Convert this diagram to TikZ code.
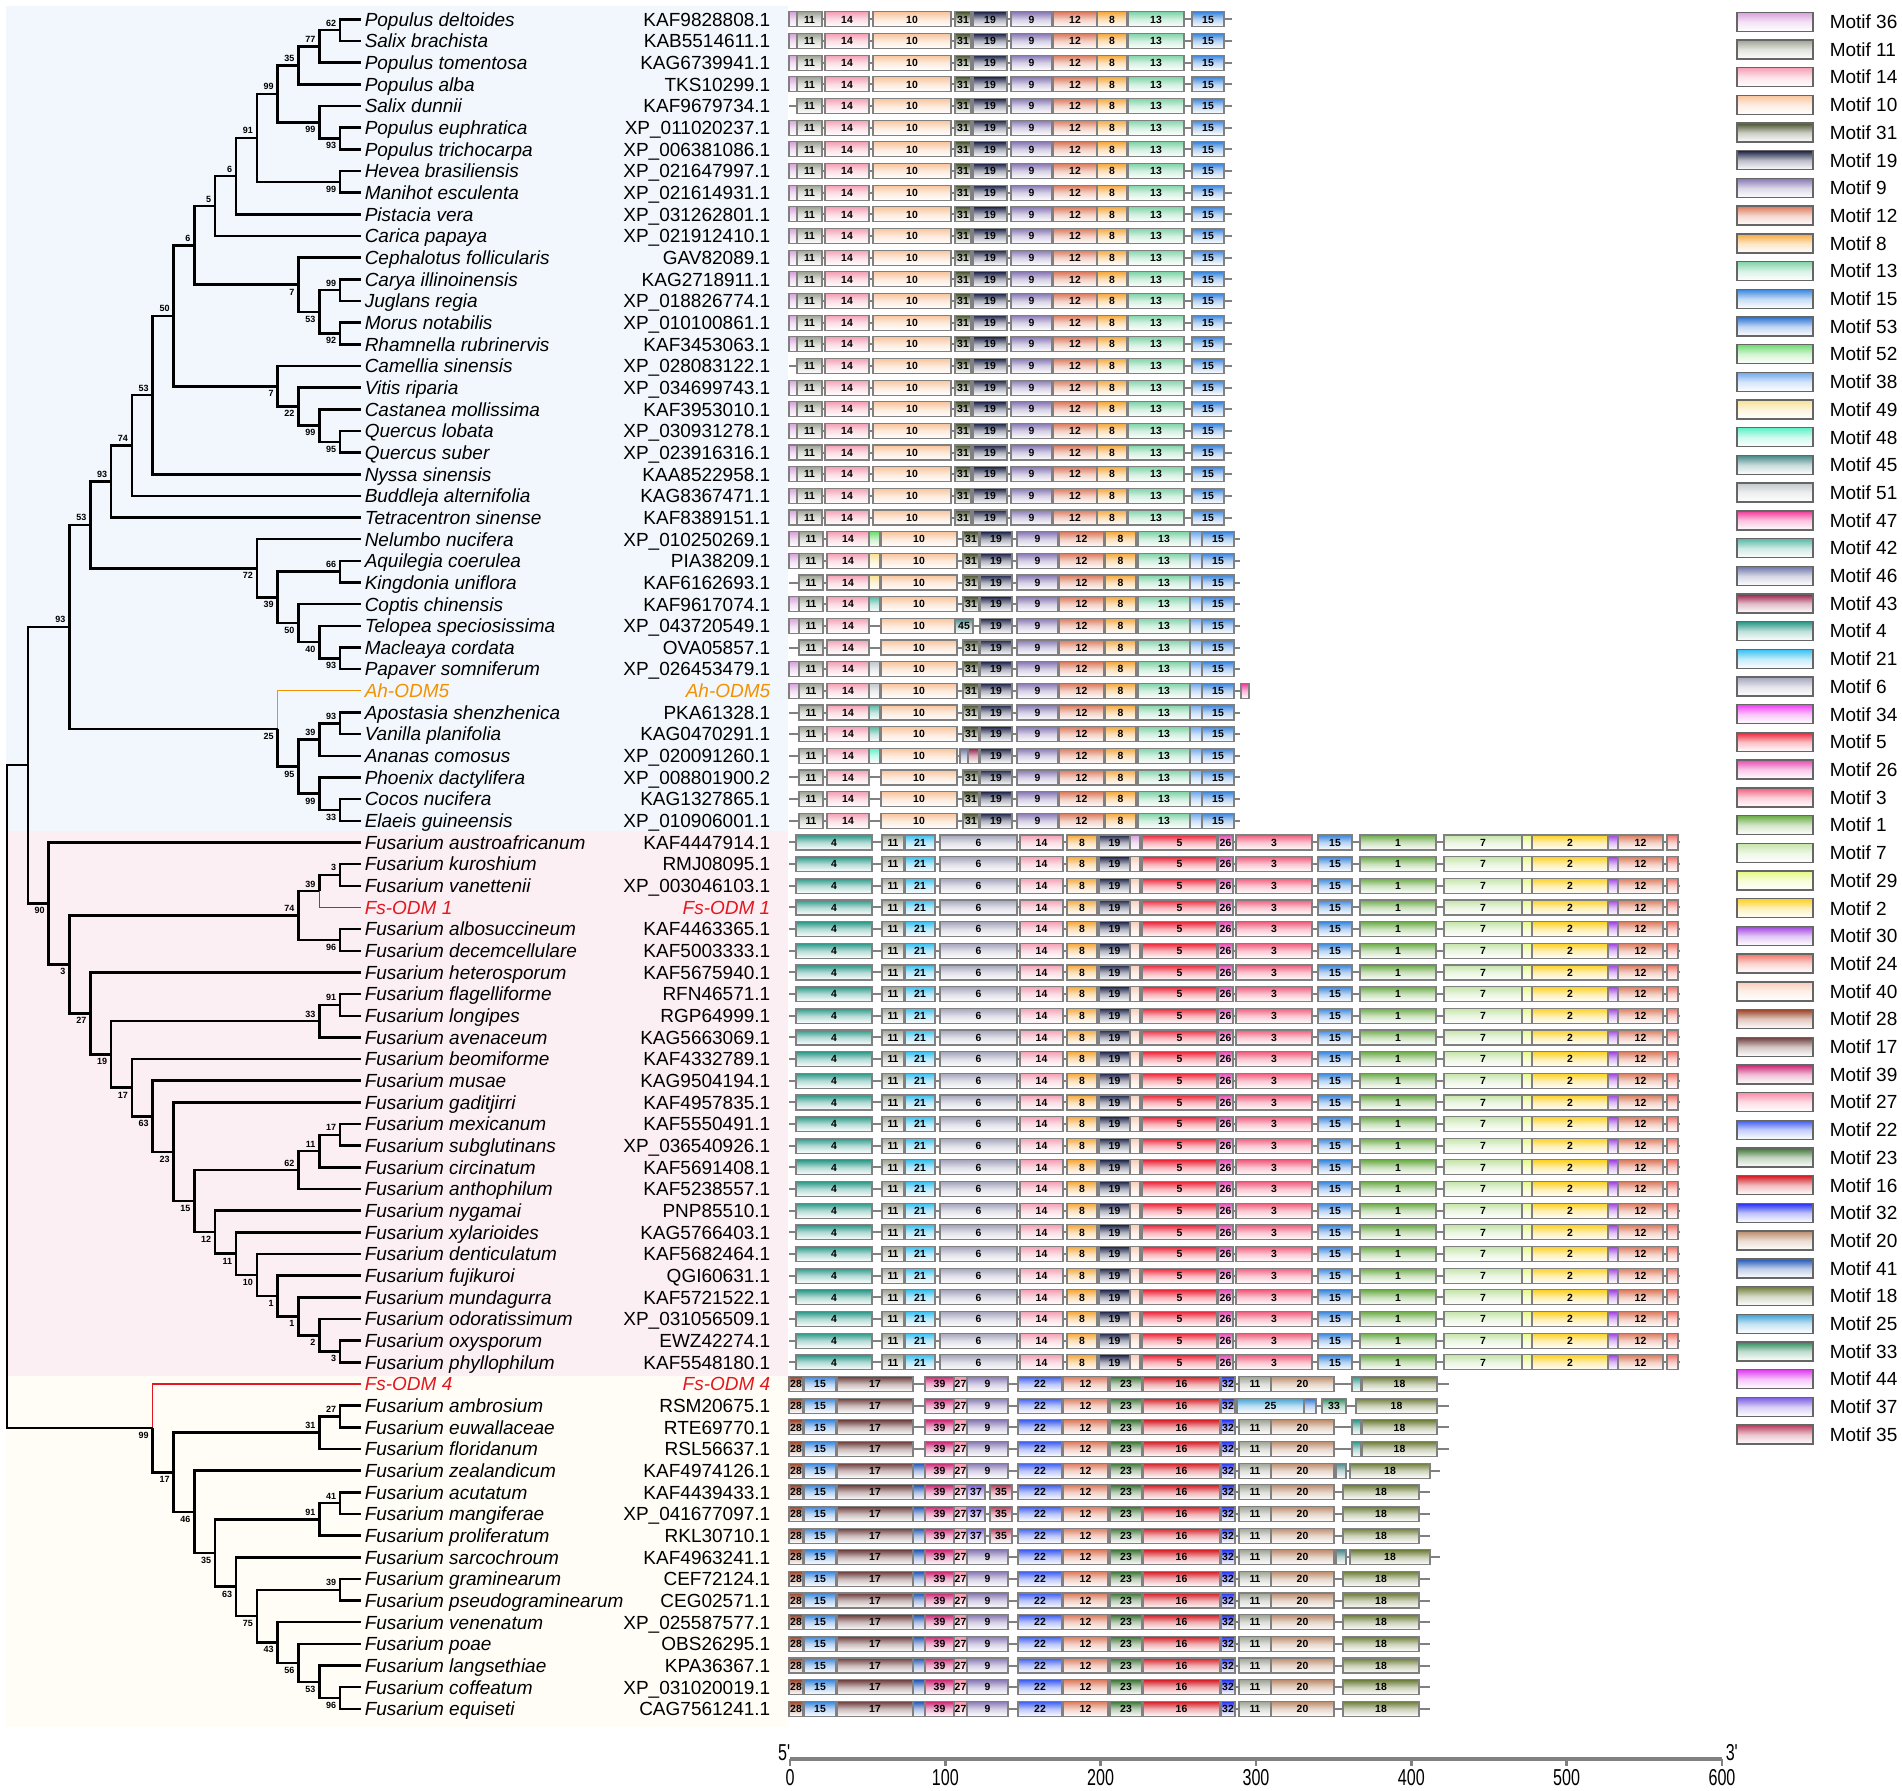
\documentclass[tikz,border=0pt]{standalone}
\usepackage{fontspec}
\setmainfont{Liberation Sans}
\newfontfamily\axfont[FakeStretch=0.7]{Liberation Sans}
\usetikzlibrary{calc}

% motif colours (top of gradient)
\definecolor{mc36}{HTML}{D8A0DC}\definecolor{mc11}{HTML}{9EA394}\definecolor{mc14}{HTML}{F4A0B4}
\definecolor{mc10}{HTML}{F8C49C}\definecolor{mc31}{HTML}{4A5530}\definecolor{mc19}{HTML}{1E2448}
\definecolor{mc9}{HTML}{8878B4}\definecolor{mc12}{HTML}{DC7A5C}\definecolor{mc8}{HTML}{F5A83C}
\definecolor{mc13}{HTML}{80D4A8}\definecolor{mc15}{HTML}{3A86DC}\definecolor{mc53}{HTML}{2C74D4}
\definecolor{mc52}{HTML}{70DC70}\definecolor{mc38}{HTML}{70A8EC}\definecolor{mc49}{HTML}{F8E090}
\definecolor{mc48}{HTML}{60F0C8}\definecolor{mc45}{HTML}{4A8888}\definecolor{mc51}{HTML}{C4C8CC}
\definecolor{mc47}{HTML}{F03898}\definecolor{mc42}{HTML}{58B8A4}\definecolor{mc46}{HTML}{6C74A8}
\definecolor{mc43}{HTML}{9C1C48}\definecolor{mc4}{HTML}{2A9888}\definecolor{mc21}{HTML}{38C0F0}
\definecolor{mc6}{HTML}{A4A4BC}\definecolor{mc34}{HTML}{F040F4}\definecolor{mc5}{HTML}{EC2438}
\definecolor{mc26}{HTML}{E84CB4}\definecolor{mc3}{HTML}{F05C7C}\definecolor{mc1}{HTML}{6CAC48}
\definecolor{mc7}{HTML}{C4E4A8}\definecolor{mc29}{HTML}{E4F880}\definecolor{mc2}{HTML}{FCD020}
\definecolor{mc30}{HTML}{A040E0}\definecolor{mc24}{HTML}{F07468}\definecolor{mc40}{HTML}{F8CCB8}
\definecolor{mc28}{HTML}{9C4428}\definecolor{mc17}{HTML}{6C3C3C}\definecolor{mc39}{HTML}{CC2474}
\definecolor{mc27}{HTML}{F88CA8}\definecolor{mc22}{HTML}{3C5CF0}\definecolor{mc23}{HTML}{3C7434}
\definecolor{mc16}{HTML}{D41C24}\definecolor{mc32}{HTML}{2430F0}\definecolor{mc20}{HTML}{BC8C6C}
\definecolor{mc41}{HTML}{2054B4}\definecolor{mc18}{HTML}{6C7C38}\definecolor{mc25}{HTML}{3CA0D4}
\definecolor{mc33}{HTML}{2C8C5C}\definecolor{mc44}{HTML}{E03CF0}\definecolor{mc37}{HTML}{7C5CE0}
\definecolor{mc35}{HTML}{BC3C5C}
\definecolor{plantbg}{HTML}{F1F7FC}
\definecolor{fusbg}{HTML}{FCEFF4}
\definecolor{fsbg}{HTML}{FFFDF6}
\definecolor{ahorange}{HTML}{F39200}
\definecolor{fsred}{HTML}{E3171F}

\tikzset{every picture/.style={line width=0.75pt}}
\tikzset{
  br/.style={line width=1.25pt},
  ahbr/.style={line width=0.6pt, draw=ahorange},
  fsbr/.style={line width=0.6pt, draw=fsred},
  bs/.style={inner sep=0pt, outer sep=2pt, font=\fontsize{4.5}{5}\selectfont\bfseries, text height=3.2pt, text depth=0pt},
  taxon/.style={anchor=west, inner sep=0pt, font=\fontsize{9.5}{11}\selectfont\itshape, text height=6.8pt, text depth=0pt},
  acc/.style={anchor=east, inner sep=0pt, font=\fontsize{9.5}{11}\selectfont, text height=6.8pt, text depth=0pt},
  bbone/.style={draw=gray, line width=1pt},
  mtfbox/.style={draw=gray, line width=0.6pt, bottom color=white},
  mtflab/.style={inner sep=0pt, font=\fontsize{5.2}{6}\selectfont\bfseries, text height=3.7pt, text depth=0pt},
  legbox/.style={draw=gray!80!black, line width=0.7pt, bottom color=white},
  legtxt/.style={anchor=west, inner sep=0pt, font=\fontsize{9.5}{11}\selectfont, text height=6.8pt, text depth=0pt},
  axisline/.style={draw=gray, line width=1.6pt},
  axnum/.style={inner sep=0pt, font=\fontsize{11.5}{12}\selectfont\axfont}
}

% clade: name, level, upper child, lower child, support, side of label
\newcommand\clade[6]{%
  \coordinate (#1m) at ($(#3)!.5!(#4)$);
  \coordinate (#1) at (lv#2 |- #1m);
  \draw[br] (#1) |- (#3);
  \draw[br] (#1) |- (#4);
  \node[bs, anchor=#6 east] (#1l) at (#1) {#5};}
% backbone of one row
\newcommand\bkb[3]{%
  \pgfmathsetmacro\yy{19.4+21.66*(#1-1)}%
  \draw[bbone] (#2,\yy) -- (#3,\yy);}
% one motif box: row, from, to, motif
\newcommand\mtf[4]{%
  \pgfmathsetmacro\yy{19.4+21.66*(#1-1)}%
  \draw[mtfbox, top color=mc#4, middle color=mc#4!35] (#2,\yy-7.5) rectangle (#3,\yy+7.5);
  \pgfmathtruncatemacro\wok{(#3-#2)>=13}%
  \ifnum\wok=1 \node[mtflab] (t#1-#2) at ({(#2+#3)/2},\yy) {#4};\fi}

\begin{document}
\begin{tikzpicture}[x=0.5pt,y=0.5pt,yscale=-1]
\useasboundingbox (0,0) rectangle (1902,1791);

% group backgrounds
\fill[plantbg] (6,6) rectangle (788,831);
\fill[fusbg] (6,831) rectangle (788,1376);
\fill[fsbg] (6,1376) rectangle (788,1727);

% levels of the cladogram and tips
\foreach \k in {0,...,17} \coordinate (lv\k) at ({7+20.82*\k},0);
\foreach \r in {1,...,79} \coordinate (r\r) at (361,{19.4+21.66*(\r-1)});

% plants
\clade{a1}{16}{r1}{r2}{62}{south}
\clade{a2}{15}{a1}{r3}{77}{south}
\clade{a3}{14}{a2}{r4}{35}{south}
\clade{a4}{16}{r6}{r7}{93}{north}
\clade{a5}{15}{r5}{a4}{99}{north}
\clade{a6}{13}{a3}{a5}{99}{south}
\clade{a7}{16}{r8}{r9}{99}{north}
\clade{a8}{12}{a6}{a7}{91}{south}
\clade{a9}{11}{a8}{r10}{6}{south}
\clade{a10}{10}{a9}{r11}{5}{south}
\clade{a11}{16}{r13}{r14}{99}{south}
\clade{a12}{16}{r15}{r16}{92}{north}
\clade{a13}{15}{a11}{a12}{53}{north}
\clade{a14}{14}{r12}{a13}{7}{north}
\clade{a15}{9}{a10}{a14}{6}{south}
\clade{a16}{16}{r20}{r21}{95}{north}
\clade{a17}{15}{r19}{a16}{99}{north}
\clade{a18}{14}{r18}{a17}{22}{north}
\clade{a19}{13}{r17}{a18}{7}{north}
\clade{a20}{8}{a15}{a19}{50}{south}
\clade{a21}{7}{a20}{r22}{53}{south}
\clade{a22}{6}{a21}{r23}{74}{south}
\clade{a23}{5}{a22}{r24}{93}{south}
\clade{b1}{16}{r26}{r27}{66}{south}
\clade{b2}{16}{r30}{r31}{93}{north}
\clade{b3}{15}{r29}{b2}{40}{north}
\clade{b4}{14}{r28}{b3}{50}{north}
\clade{b5}{13}{b1}{b4}{39}{north}
\clade{b6}{12}{r25}{b5}{72}{north}
\clade{b7}{4}{a23}{b6}{53}{south}
\clade{c1}{16}{r33}{r34}{93}{south}
\clade{c2}{15}{c1}{r35}{39}{south}
\clade{c3}{16}{r37}{r38}{33}{north}
\clade{c4}{15}{r36}{c3}{99}{north}
\clade{c5}{14}{c2}{c4}{95}{north}
\coordinate (c6m) at ($(r32)!.5!(c5)$);
\coordinate (c6) at (lv13 |- c6m);
\draw[ahbr] (c6) |- (r32);
\draw[br] (c6) |- (c5);
\node[bs, anchor=north east] (c6l) at (c6) {25};
\clade{c7}{3}{b7}{c6}{93}{south}

% Fusarium, first group
\clade{d1}{16}{r40}{r41}{3}{south}
\coordinate (d2m) at ($(d1)!.5!(r42)$);
\coordinate (d2) at (lv15 |- d2m);
\draw[br] (d2) |- (d1);
\draw[fsbr] (d2) |- (r42);
\node[bs, anchor=south east] (d2l) at (d2) {39};
\clade{d3}{16}{r43}{r44}{96}{north}
\clade{d4}{14}{d2}{d3}{74}{south}
\clade{e1}{16}{r46}{r47}{91}{south}
\clade{e2}{15}{e1}{r48}{33}{south}
\clade{f1}{16}{r52}{r53}{17}{south}
\clade{f2}{15}{f1}{r54}{11}{south}
\clade{f3}{14}{f2}{r55}{62}{south}
\clade{g1}{16}{r62}{r63}{3}{north}
\clade{g2}{15}{r61}{g1}{2}{north}
\clade{g3}{14}{r60}{g2}{1}{north}
\clade{g4}{13}{r59}{g3}{1}{north}
\clade{g5}{12}{r58}{g4}{10}{north}
\clade{g6}{11}{r57}{g5}{11}{north}
\clade{g7}{10}{r56}{g6}{12}{north}
\clade{g8}{9}{f3}{g7}{15}{north}
\clade{g9}{8}{r51}{g8}{23}{north}
\clade{g10}{7}{r50}{g9}{63}{north}
\clade{g11}{6}{r49}{g10}{17}{north}
\clade{g12}{5}{e2}{g11}{19}{north}
\clade{g13}{4}{r45}{g12}{27}{north}
\clade{g14}{3}{d4}{g13}{3}{north}
\clade{g15}{2}{r39}{g14}{90}{north}
\coordinate (h0m) at ($(c7)!.5!(g15)$);
\coordinate (h0) at (lv1 |- h0m);
\draw[br] (h0) |- (c7);
\draw[br] (h0) |- (g15);

% Fusarium, second group
\clade{i1}{16}{r65}{r66}{27}{south}
\clade{i2}{15}{i1}{r67}{31}{south}
\clade{j1}{16}{r69}{r70}{41}{south}
\clade{j2}{15}{j1}{r71}{91}{south}
\clade{k1}{16}{r73}{r74}{39}{south}
\clade{m1}{16}{r78}{r79}{96}{north}
\clade{m2}{15}{r77}{m1}{53}{north}
\clade{m3}{14}{r76}{m2}{56}{north}
\clade{m4}{13}{r75}{m3}{43}{north}
\clade{m5}{12}{k1}{m4}{75}{north}
\clade{m6}{11}{r72}{m5}{63}{north}
\clade{m7}{10}{j2}{m6}{35}{north}
\clade{m8}{9}{r68}{m7}{46}{north}
\clade{m9}{8}{i2}{m8}{17}{north}
\coordinate (m10m) at ($(r64)!.5!(m9)$);
\coordinate (m10) at (lv7 |- m10m);
\draw[fsbr] (m10) |- (r64);
\draw[br] (m10) |- (m9);
\node[bs, anchor=north east] (m10l) at (m10) {99};

% root
\coordinate (rootm) at ($(h0)!.5!(m10)$);
\coordinate (root) at (lv0 |- rootm);
\draw[br] (root) |- (h0);
\draw[br] (root) |- (m10);

% names and accessions
\foreach \r/\sp/\ac in {1/Populus deltoides/KAF9828808.1, 2/Salix brachista/KAB5514611.1,
  3/Populus tomentosa/KAG6739941.1, 4/Populus alba/TKS10299.1, 5/Salix dunnii/KAF9679734.1,
  6/Populus euphratica/XP\_011020237.1, 7/Populus trichocarpa/XP\_006381086.1,
  8/Hevea brasiliensis/XP\_021647997.1, 9/Manihot esculenta/XP\_021614931.1,
  10/Pistacia vera/XP\_031262801.1, 11/Carica papaya/XP\_021912410.1,
  12/Cephalotus follicularis/GAV82089.1, 13/Carya illinoinensis/KAG2718911.1,
  14/Juglans regia/XP\_018826774.1, 15/Morus notabilis/XP\_010100861.1,
  16/Rhamnella rubrinervis/KAF3453063.1, 17/Camellia sinensis/XP\_028083122.1,
  18/Vitis riparia/XP\_034699743.1, 19/Castanea mollissima/KAF3953010.1,
  20/Quercus lobata/XP\_030931278.1, 21/Quercus suber/XP\_023916316.1,
  22/Nyssa sinensis/KAA8522958.1, 23/Buddleja alternifolia/KAG8367471.1,
  24/Tetracentron sinense/KAF8389151.1, 25/Nelumbo nucifera/XP\_010250269.1,
  26/Aquilegia coerulea/PIA38209.1, 27/Kingdonia uniflora/KAF6162693.1,
  28/Coptis chinensis/KAF9617074.1, 29/Telopea speciosissima/XP\_043720549.1,
  30/Macleaya cordata/OVA05857.1, 31/Papaver somniferum/XP\_026453479.1,
  33/Apostasia shenzhenica/PKA61328.1, 34/Vanilla planifolia/KAG0470291.1,
  35/Ananas comosus/XP\_020091260.1, 36/Phoenix dactylifera/XP\_008801900.2,
  37/Cocos nucifera/KAG1327865.1, 38/Elaeis guineensis/XP\_010906001.1,
  39/Fusarium austroafricanum/KAF4447914.1, 40/Fusarium kuroshium/RMJ08095.1,
  41/Fusarium vanettenii/XP\_003046103.1, 43/Fusarium albosuccineum/KAF4463365.1,
  44/Fusarium decemcellulare/KAF5003333.1, 45/Fusarium heterosporum/KAF5675940.1,
  46/Fusarium flagelliforme/RFN46571.1, 47/Fusarium longipes/RGP64999.1,
  48/Fusarium avenaceum/KAG5663069.1, 49/Fusarium beomiforme/KAF4332789.1,
  50/Fusarium musae/KAG9504194.1, 51/Fusarium gaditjirri/KAF4957835.1,
  52/Fusarium mexicanum/KAF5550491.1, 53/Fusarium subglutinans/XP\_036540926.1,
  54/Fusarium circinatum/KAF5691408.1, 55/Fusarium anthophilum/KAF5238557.1,
  56/Fusarium nygamai/PNP85510.1, 57/Fusarium xylarioides/KAG5766403.1,
  58/Fusarium denticulatum/KAF5682464.1, 59/Fusarium fujikuroi/QGI60631.1,
  60/Fusarium mundagurra/KAF5721522.1, 61/Fusarium odoratissimum/XP\_031056509.1,
  62/Fusarium oxysporum/EWZ42274.1, 63/Fusarium phyllophilum/KAF5548180.1,
  65/Fusarium ambrosium/RSM20675.1, 66/Fusarium euwallaceae/RTE69770.1,
  67/Fusarium floridanum/RSL56637.1, 68/Fusarium zealandicum/KAF4974126.1,
  69/Fusarium acutatum/KAF4439433.1, 70/Fusarium mangiferae/XP\_041677097.1,
  71/Fusarium proliferatum/RKL30710.1, 72/Fusarium sarcochroum/KAF4963241.1,
  73/Fusarium graminearum/CEF72124.1, 74/Fusarium pseudograminearum/CEG02571.1,
  75/Fusarium venenatum/XP\_025587577.1, 76/Fusarium poae/OBS26295.1,
  77/Fusarium langsethiae/KPA36367.1, 78/Fusarium coffeatum/XP\_031020019.1,
  79/Fusarium equiseti/CAG7561241.1}{
  \node[taxon] (sp\r) at (364,{19.4+21.66*(\r-1)}) {\sp};
  \node[acc] (ac\r) at (771,{19.4+21.66*(\r-1)}) {\ac};
}
\node[taxon, text=ahorange] (sp32) at (364,{19.4+21.66*31}) {Ah-ODM5};
\node[acc, text=ahorange, font=\fontsize{9.5}{11}\selectfont\itshape] (ac32) at (771,{19.4+21.66*31}) {Ah-ODM5};
\node[taxon, text=fsred] (sp42) at (364,{19.4+21.66*41}) {Fs-ODM 1};
\node[acc, text=fsred, font=\fontsize{9.5}{11}\selectfont\itshape] (ac42) at (771,{19.4+21.66*41}) {Fs-ODM 1};
\node[taxon, text=fsred] (sp64) at (364,{19.4+21.66*63}) {Fs-ODM 4};
\node[acc, text=fsred, font=\fontsize{9.5}{11}\selectfont\itshape] (ac64) at (771,{19.4+21.66*63}) {Fs-ODM 4};

% motifs, plants
\foreach \r in {1,...,24}{
  \bkb{\r}{789}{1232}
  \foreach \a/\b/\m in {797/822/11,825/869/14,873/951/10,955/971/31,973/1007/19,1011/1052/9,
    1053/1097/12,1097/1127/8,1128/1184/13,1192/1224/15}{\mtf{\r}{\a}{\b}{\m}}
}
\foreach \r in {1,2,3,4,6,7,...,16,18,19,...,24}{\mtf{\r}{789}{797}{36}}
\foreach \r in {25,...,38}{
  \bkb{\r}{789}{1240}
  \foreach \a/\b/\m in {799/823/11,827/869/14,881/957/10,980/1012/19,1017/1058/9,1059/1104/12,
    1105/1136/8,1138/1190/13,1190/1202/38,1202/1234/15}{\mtf{\r}{\a}{\b}{\m}}
}
\foreach \r in {25,...,28,30,31,32,33,34,36,37,38}{\mtf{\r}{963}{979}{31}}
\foreach \r in {25,26,28,29,31,32}{\mtf{\r}{789}{799}{36}}
\foreach \r/\m in {25/52,26/49,27/49,28/42,31/51,32/51,33/42,34/42,35/48}{\mtf{\r}{869}{880}{\m}}
\mtf{29}{955}{973}{45}
\mtf{35}{960}{968}{46}
\mtf{35}{968}{979}{43}
\bkb{32}{1234}{1250}
\mtf{32}{1241}{1249}{47}

% motifs, Fusarium first group
\foreach \r in {39,...,63}{
  \bkb{\r}{789}{1680}
  \foreach \a/\b/\m in {796/872/4,882/904/11,905/935/21,940/1017/6,1020/1063/14,1067/1097/8,
    1099/1130/19,1142/1217/5,1218/1233/26,1236/1312/3,1318/1352/15,1360/1436/1,1444/1522/7,
    1522/1532/29,1532/1608/2,1608/1618/30,1618/1663/12,1667/1678/24}{\mtf{\r}{\a}{\b}{\m}}
}
\mtf{39}{1130}{1140}{36}
\foreach \r in {40,...,63}{\mtf{\r}{1130}{1140}{40}}

% motifs, Fusarium second group
\foreach \r in {64,...,67}{\bkb{\r}{789}{1449}}
\foreach \r in {68,72}{\bkb{\r}{789}{1440}}
\foreach \r in {69,70,71,73,74,...,79}{\bkb{\r}{789}{1430}}
\foreach \r in {64,...,79}{
  \foreach \a/\b/\m in {789/803/28,804/836/15,837/913/17,925/954/39,954/967/27,1018/1062/22,
    1063/1108/12,1110/1142/23,1143/1220/16,1221/1235/32}{\mtf{\r}{\a}{\b}{\m}}
}
\foreach \r in {64,...,68,72,73,...,79}{\mtf{\r}{967}{1008}{9}}
\foreach \r in {68,...,79}{\mtf{\r}{913}{925}{41}}
\foreach \r in {69,70,71}{\mtf{\r}{967}{985}{37}\mtf{\r}{990}{1012}{35}}
\foreach \r in {64,66,67,68,...,79}{\mtf{\r}{1239}{1271}{11}\mtf{\r}{1271}{1334}{20}}
\foreach \r in {64,66,67}{\mtf{\r}{1352}{1361}{4}\mtf{\r}{1362}{1437}{18}}
\foreach \a/\b/\m in {1237/1304/25,1304/1316/53,1322/1346/33,1356/1437/18}{\mtf{65}{\a}{\b}{\m}}
\foreach \r in {68,72}{\mtf{\r}{1336}{1346}{45}\mtf{\r}{1350}{1430}{18}}
\foreach \r in {69,70,71,73,74,...,79}{\mtf{\r}{1343}{1419}{18}}

% legend
\foreach \m [count=\i from 0] in {36,11,14,10,31,19,9,12,8,13,15,53,52,38,49,48,45,51,47,42,46,43,4,21,6,
  34,5,26,3,1,7,29,2,30,24,40,28,17,39,27,22,23,16,32,20,41,18,25,33,44,37,35}{
  \pgfmathsetmacro\ly{21.8+27.7*\i}
  \draw[legbox, top color=mc\m, middle color=mc\m!30] (1737,\ly-9.5) rectangle (1813,\ly+9.5);
  \node[legtxt] (lg\m) at (1829,\ly) {Motif \m};
}

% length axis
\coordinate (ax0) at (790,1759);
\coordinate (ax600) at (1722,1759);
\draw[axisline] (ax0) -- (ax600);
\foreach \v in {0,100,...,600}{
  \pgfmathsetmacro\xx{790+1.5533*\v}
  \draw[axisline, line width=1.2pt] (\xx,1759) -- (\xx,1766);
  \node[axnum] (n\v) at (\xx,1778) {\v};
}
\node[axnum, anchor=east] (five) at ($(ax0)+(1,-6)$) {5'};
\node[axnum, anchor=west] (three) at ($(ax600)+(3,-6)$) {3'};
\end{tikzpicture}
\end{document}
